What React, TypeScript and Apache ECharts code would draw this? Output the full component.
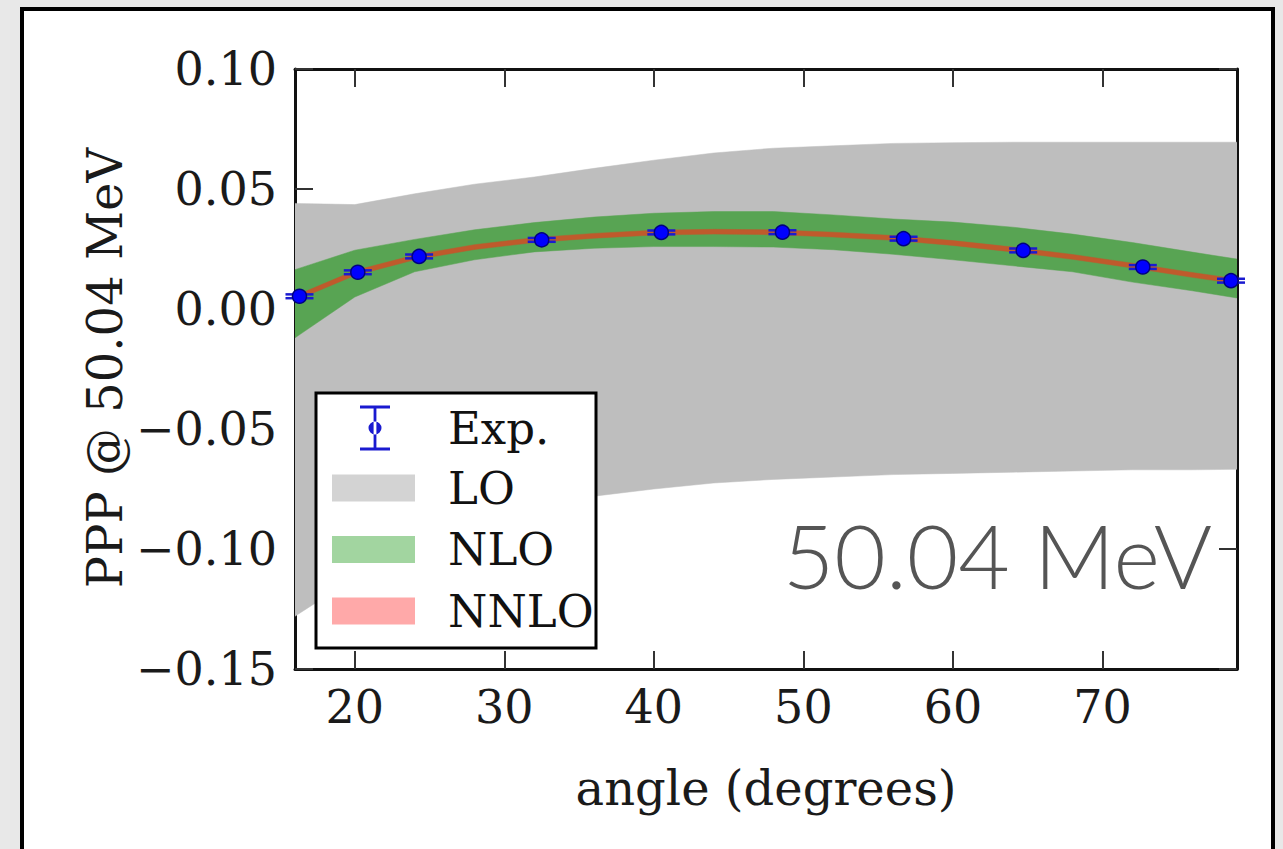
import React, { useEffect, useRef } from "react";
import * as echarts from "echarts";

// ---- data ----
const angles = [16, 20, 24, 28, 32, 36, 40, 44, 48, 52, 56, 60, 64, 68, 72, 76, 79];
const loLower = [-0.128, -0.112, -0.099, -0.089, -0.082, -0.078, -0.075, -0.0725, -0.071, -0.07, -0.069, -0.0685, -0.068, -0.0675, -0.067, -0.067, -0.0668];
const loUpper = [0.044, 0.0435, 0.048, 0.052, 0.055, 0.0586, 0.062, 0.065, 0.067, 0.068, 0.069, 0.0693, 0.0695, 0.0695, 0.0695, 0.0695, 0.0695];
const nloLower = [-0.012, 0.005, 0.0155, 0.0205, 0.0238, 0.0253, 0.026, 0.026, 0.0258, 0.0247, 0.0228, 0.0205, 0.018, 0.0155, 0.0112, 0.0076, 0.0046];
const nloUpper = [0.0164, 0.0245, 0.029, 0.033, 0.036, 0.0383, 0.0399, 0.0406, 0.0406, 0.0392, 0.0375, 0.0362, 0.0341, 0.0312, 0.0277, 0.0237, 0.0208];
const nnloLower = [0.0035, 0.014, 0.0205, 0.0248, 0.0277, 0.0295, 0.0308, 0.0312, 0.031, 0.03, 0.0286, 0.0265, 0.0238, 0.0207, 0.0171, 0.0132, 0.0105];
const nnloUpper = [0.0055, 0.016, 0.0225, 0.0268, 0.0297, 0.0315, 0.0328, 0.0332, 0.033, 0.032, 0.0306, 0.0285, 0.0258, 0.0227, 0.0191, 0.0152, 0.0125];

const expAngle = [16.3, 20.2, 24.3, 32.5, 40.5, 48.6, 56.7, 64.7, 72.7, 78.6];
const expValue = [0.0053, 0.0153, 0.0219, 0.0288, 0.0319, 0.032, 0.0293, 0.0244, 0.0175, 0.0118];
const expError = [0.0008, 0.0008, 0.0008, 0.0008, 0.0008, 0.0008, 0.0008, 0.0008, 0.0008, 0.0008];

const xTicks = [20, 30, 40, 50, 60, 70];
const yMin = -0.15;
const yMax = 0.1;
const yStep = 0.05;
const xMin = 16;
const xMax = 79;

const SERIF = "DejaVu Serif";

function fmtY(v: number): string {
  const s = Math.abs(v).toFixed(2);
  return v < -1e-9 ? "\u2212" + s : s;
}

// A filled band between lower and upper, drawn as one polygon through the axes' scales.
function band(name: string, lower: number[], upper: number[], color: string, z: number) {
  return {
    name,
    type: "custom",
    z,
    silent: true,
    clip: true,
    encode: { x: 0, y: [1, 2] },
    data: angles.map((a, i) => [a, lower[i], upper[i]]),
    renderItem: (params: any, api: any) => {
      if (params.dataIndexInside !== 0) return null;
      const n = params.dataInsideLength;
      const pts: number[][] = [];
      for (let j = 0; j < n; j++) pts.push(api.coord([api.value(0, j), api.value(2, j)]));
      for (let j = n - 1; j >= 0; j--) pts.push(api.coord([api.value(0, j), api.value(1, j)]));
      return {
        type: "polygon",
        shape: { points: pts },
        style: { fill: color, stroke: color, lineWidth: 0.5 },
      };
    },
  };
}

export default function App() {
  const ref = useRef<HTMLDivElement>(null);
  useEffect(() => {
    if (!ref.current) return;
    const chart = echarts.init(ref.current, undefined, { renderer: "svg" });

    const axisLine = { show: true, onZero: false, lineStyle: { color: "#111", width: 3 } };
    const tickStyle = { color: "#333", width: 2 };

    const option: any = {
      animation: false,
      backgroundColor: "#e8e8e8",
      grid: { left: 295, right: 46, top: 69, bottom: 180, outerBoundsMode: "none" },
      xAxis: [
        {
          type: "value",
          min: xMin,
          max: xMax,
          position: "bottom",
          axisLine,
          axisTick: { show: true, inside: true, length: 18, lineStyle: tickStyle, customValues: xTicks },
          axisLabel: {
            customValues: xTicks,
            fontSize: 46,
            fontFamily: SERIF,
            color: "#1a1a1a",
            margin: 15,
          },
          splitLine: { show: false },
        },
        {
          type: "value",
          min: xMin,
          max: xMax,
          position: "top",
          axisLine,
          axisTick: { show: true, inside: true, length: 18, lineStyle: tickStyle, customValues: xTicks },
          axisLabel: { show: false },
          splitLine: { show: false },
        },
      ],
      yAxis: [
        {
          type: "value",
          min: yMin,
          max: yMax,
          interval: yStep,
          position: "left",
          axisLine,
          axisTick: { show: true, inside: true, length: 18, lineStyle: tickStyle },
          axisLabel: {
            formatter: fmtY,
            fontSize: 46,
            fontFamily: SERIF,
            color: "#1a1a1a",
            margin: 18,
          },
          splitLine: { show: false },
        },
        {
          type: "value",
          min: yMin,
          max: yMax,
          interval: yStep,
          position: "right",
          axisLine,
          axisTick: { show: true, inside: true, length: 18, lineStyle: tickStyle },
          axisLabel: { show: false },
          splitLine: { show: false },
        },
      ],
      legend: [
        {
          data: [
            {
              name: "Exp.",
              icon:
                "path://M0,0H30V3H0Z M0,42H30V45H0Z M13.6,3H16.4V42H13.6Z M8.5,22.5A6.5,6.5 0 1 0 21.5,22.5A6.5,6.5 0 1 0 8.5,22.5Z",
              itemStyle: { color: "#1a1ad0" },
            },
          ],
          orient: "vertical",
          left: 360,
          top: 405.5,
          padding: 0,
          itemWidth: 30,
          itemHeight: 45,
          selectedMode: false,
          z: 20,
          textStyle: { fontSize: 45, fontFamily: SERIF, color: "#111", padding: [0, 0, 0, 53] },
        },
        {
          data: [
            { name: "LO", icon: "rect", itemStyle: { color: "#d3d3d3" } },
            { name: "NLO", icon: "rect", itemStyle: { color: "#a2d5a0" } },
            { name: "NNLO", icon: "rect", itemStyle: { color: "#ffa9a9" } },
          ],
          orient: "vertical",
          left: 332,
          top: 465.5,
          padding: 0,
          itemWidth: 83,
          itemHeight: 27,
          itemGap: 16.5,
          selectedMode: false,
          z: 20,
          textStyle: { fontSize: 45, fontFamily: SERIF, color: "#111", padding: [0, 0, 0, 28] },
        },
      ],
      graphic: [
        {
          type: "rect",
          z: -10,
          silent: true,
          shape: { x: 22, y: 9, width: 1251, height: 900 },
          style: { fill: "#ffffff", stroke: "#000000", lineWidth: 4 },
        },
        {
          type: "rect",
          z: 10,
          silent: true,
          shape: { x: 316, y: 393, width: 280, height: 255 },
          style: { fill: "#ffffff", stroke: "#000000", lineWidth: 3 },
        },
        {
          type: "text",
          z: 20,
          silent: true,
          x: 1212,
          y: 554,
          style: {
            text: "50.04 MeV",
            fontSize: 89,
            fontFamily: "Lato",
            fontWeight: 300,
            fill: "#555555",
            align: "right",
            verticalAlign: "middle",
          },
        },
        {
          type: "text",
          z: 20,
          silent: true,
          x: 105,
          y: 368,
          rotation: Math.PI / 2,
          style: {
            text: "PPP @ 50.04 MeV",
            fontSize: 48,
            fontFamily: SERIF,
            fill: "#1a1a1a",
            align: "center",
            verticalAlign: "middle",
          },
        },
        {
          type: "text",
          z: 20,
          silent: true,
          x: 766,
          y: 788,
          style: {
            text: "angle (degrees)",
            fontSize: 48,
            fontFamily: SERIF,
            fill: "#1a1a1a",
            align: "center",
            verticalAlign: "middle",
          },
        },
      ],
      series: [
        band("LO", loLower, loUpper, "#bebebe", 2),
        band("NLO", nloLower, nloUpper, "#58a453", 3),
        band("NNLO", nnloLower, nnloUpper, "#bf5a2c", 4),
        {
          name: "Exp.",
          type: "custom",
          z: 5,
          silent: true,
          encode: { x: 0, y: 1 },
          data: expAngle.map((a, i) => [a, expValue[i], expError[i]]),
          renderItem: (params: any, api: any) => {
            const x = api.value(0);
            const y = api.value(1);
            const e = api.value(2);
            const top = api.coord([x, y + e]);
            const bot = api.coord([x, y - e]);
            const hw = 14;
            const st = { stroke: "#1a1ad0", lineWidth: 2.5 };
            return {
              type: "group",
              children: [
                { type: "line", shape: { x1: top[0], y1: top[1], x2: bot[0], y2: bot[1] }, style: st },
                { type: "line", shape: { x1: top[0] - hw, y1: top[1], x2: top[0] + hw, y2: top[1] }, style: st },
                { type: "line", shape: { x1: bot[0] - hw, y1: bot[1], x2: bot[0] + hw, y2: bot[1] }, style: st },
              ],
            };
          },
        },
        {
          name: "Exp.",
          type: "scatter",
          z: 6,
          silent: true,
          symbol: "circle",
          symbolSize: 14,
          data: expAngle.map((a, i) => [a, expValue[i]]),
          itemStyle: { color: "#0000ff", borderColor: "#000080", borderWidth: 1.5, opacity: 1 },
        },
      ],
    };

    chart.setOption(option);
    return () => chart.dispose();
  }, []);

  return (
    <div
      ref={ref}
      style={{ position: "absolute", left: 0, top: 0, width: 1283, height: 849 }}
    />
  );
}
